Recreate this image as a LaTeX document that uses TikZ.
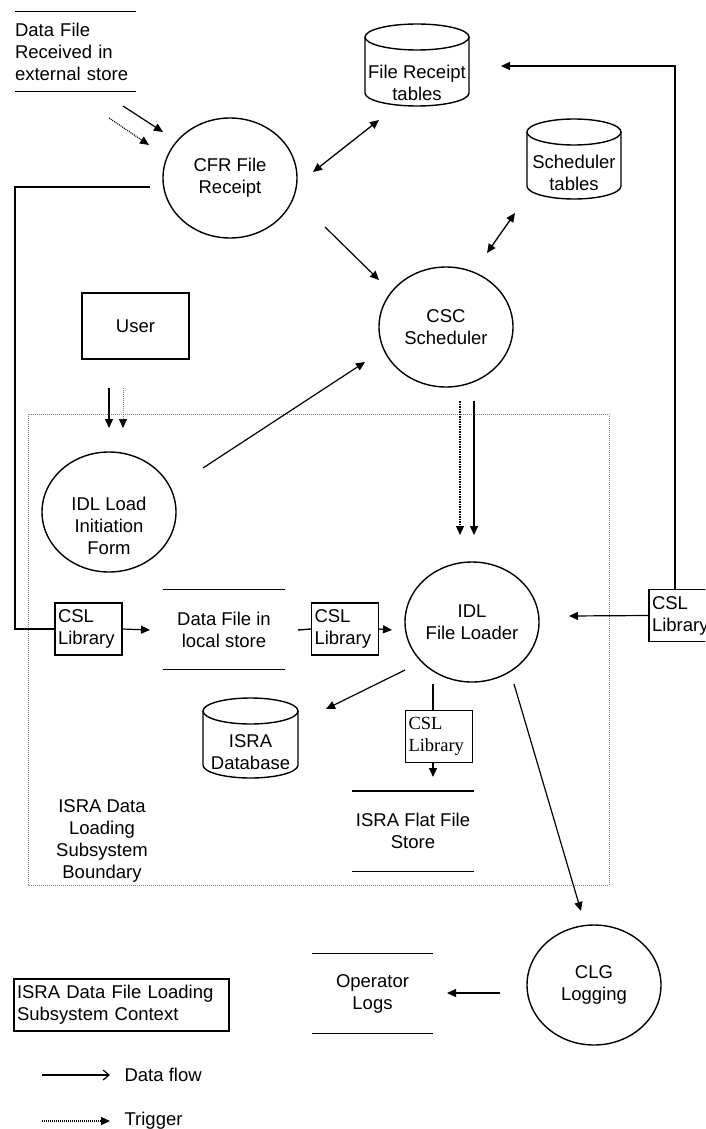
\documentclass[tikz,border=0pt]{standalone}
\usepackage{fontspec}
\setmainfont{Liberation Sans}
\newfontfamily\libserif{Liberation Serif}
\usetikzlibrary{shapes.geometric,arrows.meta}

\def\lid{13} % half height of a table lid
\newcommand{\tablecyl}[4]
{
\def\cx{#1} % centre of the table
\def\ytop{#2} % top of the lid
\def\ybot{#3} % bottom of the body
\def\cylw{#4} % width of the table
\pgfmathsetmacro{\rx}{\cylw/2}
\draw[shape line] (\cx-\rx,-\ytop-\lid) -- (\cx-\rx,-\ybot+\lid)
  arc[start angle=180,end angle=360,x radius=\rx pt,y radius=\lid pt]
  -- (\cx+\rx,-\ytop-\lid);
\draw[shape line] (\cx,-\ytop-\lid) ellipse[x radius=\rx pt,y radius=\lid pt];
}
\newcommand{\storelines}[1]{\draw[shape line] (#1.north west) -- (#1.north east) (#1.south west) -- (#1.south east);}

\tikzset{
  base/.style={font=\fontsize{18.5}{22}\selectfont, inner sep=0pt},
  shape line/.style={line width=1.4pt},
  proc/.style={base, ellipse, draw, shape line, minimum width=134pt, minimum height=120pt, align=center},
  txt/.style={base, align=center},
  store/.style={base, minimum width=121pt, minimum height=80pt, align=center},
  lib/.style={base, draw, line width=1.1pt, minimum height=52pt, text width=61pt, inner sep=3pt, align=left},
  flow/.style={line width=1.2pt, -{Triangle[length=9pt,width=8pt]}},
  trig/.style={flow, dash pattern=on 1pt off 1pt},
  twoway/.style={line width=1.3pt, {Triangle[length=9pt,width=8pt]}-{Triangle[length=9pt,width=8pt]}},
  boundary/.style={gray, line width=0.6pt, dash pattern=on 1pt off 1pt}
}

\begin{document}
\begin{tikzpicture}[x=1pt,y=1pt]
\useasboundingbox (0,0) rectangle (705,-1129);
\clip (0,0) rectangle (705,-1129);

% subsystem boundary
\draw[boundary] (28,-414) rectangle (609,-885);
\node[txt] (bnd) at (102,-841) {ISRA Data\\Loading\\Subsystem\\Boundary};

% processes
\node[proc] (cfr) at (230,-178) {CFR File\\Receipt};
\node[proc] (csc) at (446,-327) {CSC\\Scheduler};
\node[proc, label={[txt,yshift=-14pt]center:IDL Load\\Initiation\\Form}] (idlform) at (109,-512) {};
\node[proc] (loader) at (472,-622) {IDL\\File Loader};
\node[proc] (clg) at (594,-985) {CLG\\Logging};

\node[base, draw, shape line, minimum width=107pt, minimum height=66pt] (user) at (135.5,-326) {User};

% stores
\node[store, text width=121pt, align=left] (extstore) at (75.5,-51.5) {Data File\\Received in\\external store};
\node[store] (localstore) at (224,-629.5) {Data File in\\local store};
\node[store] (flatstore) at (413,-831) {ISRA Flat File\\Store};
\node[store] (oplogs) at (372.5,-993.5) {Operator\\Logs};
\foreach \s in {extstore,localstore,flatstore,oplogs}
  \storelines{\s};

% tables
\tablecyl{417}{24}{106}{104}
\node[txt] (frtables) at (417,-83) {File Receipt\\tables};
\tablecyl{574}{119}{199}{94}
\node[txt] (schtables) at (574,-172.5) {Scheduler\\tables};
\tablecyl{250.5}{698}{778}{95}
\node[txt] (isradb) at (250.5,-752.5) {ISRA\\Database};

% library calls
\node[lib] (csl1) at (88.5,-629) {CSL\\Library};
\node[lib] (csl2) at (345,-629) {CSL\\Library};
\node[lib] (csl3) at (682.5,-615.5) {CSL\\Library};
\node[lib, font=\libserif\fontsize{18.5}{22}\selectfont] (csl4) at (439,-736.5) {CSL\\Library};

\node[base, draw, line width=1.1pt, text width=209pt, inner sep=3pt, minimum height=52pt, align=left] (context) at (121.5,-1005) {ISRA Data File Loading\\Subsystem Context};

% free ends of the flows
\coordinate (ext-s) at (123,-106);  \coordinate (cfr-s) at (163,-132);
\coordinate (ext-t) at (109,-118);  \coordinate (cfr-t) at (149,-145);
\coordinate (cfr-ne) at (313,-172); \coordinate (frt-sw) at (379,-120);
\coordinate (cfr-se) at (325,-227); \coordinate (csc-nw) at (379,-280);
\coordinate (csc-ne) at (487,-253); \coordinate (sch-sw) at (515,-213);
\coordinate (user-s) at (109,-388); \coordinate (form-s) at (109,-428);
\coordinate (user-t) at (123,-388); \coordinate (form-t) at (123,-428);
\coordinate (form-ne) at (203,-468); \coordinate (csc-sw) at (365,-362);
\coordinate (csc-t) at (460,-401);  \coordinate (ldr-t) at (460,-535);
\coordinate (csc-s) at (474,-401);  \coordinate (ldr-s) at (474,-535);
\coordinate (cfr-w) at (150,-187);
\coordinate (local-w) at (150,-630); \coordinate (local-e) at (298,-630);
\coordinate (ldr-w) at (392,-630);  \coordinate (ldr-e) at (569,-616);
\coordinate (frt-e) at (501,-66);
\coordinate (ldr-sw) at (405,-670); \coordinate (db-ne) at (326,-709);
\coordinate (ldr-b) at (433,-684);  \coordinate (flat-n) at (433,-777);
\coordinate (ldr-se) at (514,-684); \coordinate (clg-n) at (581,-911);
\coordinate (clg-w) at (500,-993);  \coordinate (logs-e) at (447,-993);

% flows
\draw[flow] (ext-s) -- (cfr-s);
\draw[trig] (ext-t) -- (cfr-t);
\draw[twoway] (cfr-ne) -- (frt-sw);
\draw[flow] (cfr-se) -- (csc-nw);
\draw[twoway] (csc-ne) -- (sch-sw);
\draw[flow] (user-s) -- (form-s);
\draw[flow, gray, line width=0.6pt, dash pattern=on 1pt off 1pt, -{Triangle[length=9pt,width=8pt,black]}] (user-t) -- (form-t);
\draw[flow] (form-ne) -- (csc-sw);
\draw[trig, line width=1.6pt, dash pattern=on 1.5pt off 1pt, -{Triangle[length=9pt,width=8pt,line width=1pt]}] (csc-t) -- (ldr-t);
\draw[flow] (csc-s) -- (ldr-s);
\draw[line width=1.4pt] (cfr-w) -- ++(-135,0) |- (csl1.west);
\draw[flow] (csl1.east) -- (local-w);
\draw[line width=1.4pt] (local-e) -- (csl2.west);
\draw[flow] (csl2.east) -- (ldr-w);
\draw[flow] (csl3.west) -- (ldr-e);
\draw[flow] ([xshift=-7.5pt]csl3.north) |- (frt-e);
\draw[flow] (ldr-sw) -- (db-ne);
\draw[line width=1.3pt] (ldr-b) -- ([xshift=-6pt]csl4.north);
\draw[flow] ([xshift=-6pt]csl4.south) -- (flat-n);
\draw[flow] (ldr-se) -- (clg-n);
\draw[flow] (clg-w) -- (logs-e);

% key
\coordinate (key1) at (42,-1075);
\coordinate (key2) at (42,-1121);
\draw[line width=1.2pt, -{Straight Barb[length=6pt,width=10pt]}] (key1) -- ++(68,0)
  node[base, anchor=west, xshift=14pt] (keyflow) {Data flow};
\draw[trig] (key2) -- ++(68,0)
  node[base, anchor=west, xshift=14pt] (keytrig) {Trigger};
\end{tikzpicture}
\end{document}
